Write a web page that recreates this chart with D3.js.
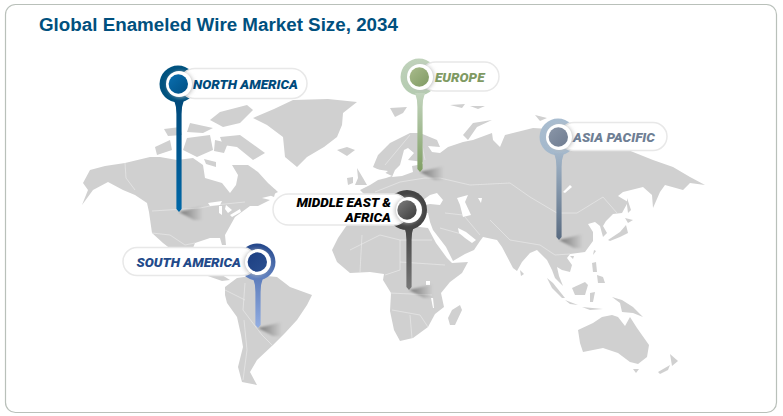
<!DOCTYPE html>
<html>
<head>
<meta charset="utf-8">
<script src="https://cdn.jsdelivr.net/npm/d3@7"></script>
<style>
    html, body { margin: 0; padding: 0; background: #fff; }
    svg { display: block; }
    .title { font-family: "Liberation Sans", Arial, sans-serif; font-weight: bold; font-size: 18.8px; fill: #00507e; }
    .pinLabel { font-family: Roboto, sans-serif; font-weight: 900; font-style: italic; font-size: 13.5px; }
</style>
</head>
<body>
<svg width="783" height="416"></svg>
<script>
var chartTitle = "Global Enameled Wire Market Size, 2034";

// pins, values in map degrees
var regions = ["NORTH AMERICA", "EUROPE", "ASIA PACIFIC", "MIDDLE EAST &\nAFRICA", "SOUTH AMERICA"];
var tipLon = [-94.5, 26, 95.5, 20.5, -55];
var tipLat = [36.5, 56.5, 22.5, -2.5, -21.5];
var headLat = [100.5, 104, 74, 37.5, 11.5];

// land outlines, [lon, lat] in map degrees
var land = [
    // north america
    [[-142.5,51],[-139,57.5],[-131.5,59.5],[-121.5,61],[-109,64],[-104,64],[-95.5,62.5],[-87.5,63.5],[-82.5,60],[-81.5,53.5],[-73,51],[-69,46],[-66,50],[-65,55],[-68,60],[-60,60],[-55,56.5],[-50,51],[-45,46.5],[-49,44.5],[-53,43.5],[-49,42.5],[-55,39.5],[-59,39.5],[-66.5,34],[-71.5,25],[-71,20],[-73,20],[-74,23.5],[-79,23.5],[-86.5,21],[-88.5,16],[-85.5,11.5],[-80,13.5],[-77,14.5],[-79,8.5],[-73,5],[-69,2.5],[-73,2],[-81.5,5],[-89,8.5],[-95,13.5],[-98,17.5],[-102.5,21],[-108,26],[-109.5,36.5],[-110.5,41],[-116.5,45],[-122.5,47.5],[-130,51.5],[-137.5,47.5],[-143,40],[-140,47.5]],
    // greenland, iceland, arctic islands
    [[-57.5,83.5],[-47,88],[-37.5,92.5],[-20,93],[-5.5,91.5],[-12.5,86],[-13,80],[-15.5,74],[-22,69],[-30.5,64],[-35.5,59],[-41.5,64],[-42.5,74],[-50.5,80]],
    [[-15.5,67.5],[-10.5,69],[-6.5,67.5],[-10.5,64.5]],
    [[-74,86.5],[-60.5,90],[-57.5,87.5],[-64,81],[-72.5,79],[-79,82.5]],
    [[-74,74],[-64,75],[-51.5,66],[-57.5,62.5],[-65.5,69],[-72.5,70]],
    [[-90.5,73.5],[-79,75],[-77.5,67.5],[-85.5,64],[-92.5,67.5]],
    [[-106.5,69],[-99,72.5],[-98,67.5],[-105.5,65]],
    [[-89,81],[-77.5,78.5],[-82.5,76],[-90.5,76.5]],
    [[-76.5,72.5],[-70,71],[-72,66],[-77,67]],
    [[-82,63],[-76,61.5],[-76,59],[-81,60.5]],
    [[-102,78],[-94,79],[-93,75],[-100,74.5]],
    [[-52,49.5],[-46,47.5],[-47,44],[-52,46]],
    // south america
    [[-71.5,-5],[-70.5,-9],[-65.5,-16],[-63.5,-25],[-62.5,-31],[-65,-41],[-63,-48.5],[-55.5,-50],[-59,-43.5],[-55.5,-37.5],[-47.5,-30],[-41.5,-24],[-35.5,-17.5],[-30.5,-10],[-28,-5],[-39,-1],[-45.5,4],[-55.5,5],[-65.5,3.5],[-71.5,-1]],
    // africa, madagascar
    [[-9.5,31.5],[-1.5,33.5],[11,34.5],[16,31.5],[22,29.5],[30,28.5],[34,21],[39.5,13.5],[42,11],[50,11.5],[47,6],[41,1.5],[36.5,-4],[38,-11],[33.5,-14.5],[30,-21],[22.5,-26.5],[16,-28],[13,-22.5],[11,-13],[11.5,-4],[7.5,2.5],[8,5.5],[1,6.5],[-9,6],[-15.5,11.5],[-18,17.5],[-15,23.5]],
    [[46,-10],[47,-12.5],[43.5,-20],[41,-20],[40,-16.5],[42,-12.5]],
    // eurasia
    [[2.5,59],[5,65],[11,71],[21,76],[26,76],[34.5,72.5],[36,69],[30,69.5],[32,66.5],[36,66],[40,69],[47.5,71.5],[52.5,72.5],[62,76],[62.5,72.5],[66,69],[68.5,75],[74.5,76.5],[82.5,78.5],[91,78],[106,76],[121,71.5],[132.5,66.5],[142.5,62.5],[152.5,59],[161,54],[168.5,50],[161,51],[157.5,47.5],[148.5,50],[146,46.5],[142.5,38.5],[142,45],[137.5,49],[127.5,46.5],[125,44.5],[130,41.5],[127,36],[122.5,35.5],[119,32],[117.5,29.5],[119.5,26],[117.5,24],[116,29.5],[113.5,31.5],[110,30.5],[112.5,26.5],[112.5,22],[108.5,16.5],[101,15.5],[99.5,13.5],[102,10],[101,6.5],[97,7.5],[94.5,9],[95.5,4.5],[97.5,-0.5],[93.5,3.5],[92,7.5],[89.5,12.5],[84.5,17.5],[81,16],[77,11.5],[74.5,7],[72.5,8.5],[67,19],[64.5,22.5],[57.5,24],[56,22],[53,17.5],[48.5,15.5],[42.5,12],[39,19],[32.5,27.5],[31,31.5],[30,36],[25,36.5],[21,32.5],[17,38.5],[20,31.5],[15,36.5],[11,42.5],[6,43.5],[1,40],[-3,33.5],[-11.5,33.5],[-14,40],[-11.5,44],[-1.5,45],[-4,47.5],[1,50],[5,52.5],[9,53.5],[12,54.5]],
    // uk, ireland and northern islands
    [[-5.5,58.5],[-2.5,53.5],[-0.5,50],[-6.5,50],[-5,53.5]],
    [[-10.5,53.5],[-7.5,54],[-7.5,51],[-10,50]],
    [[47.5,75],[52.5,81],[62,82.5],[54.5,79],[50,72.5]],
    [[11,88.5],[19.5,89],[17.5,86],[13.5,84]],
    [[41,90],[48.5,90.5],[47,88.5]],
    [[51,89.5],[58.5,89.5],[55,88]],
    [[83.5,85],[89.5,83.5],[86,82]],
    // japan, sakhalin
    [[120,22.5],[126,26.5],[129,30],[130,26],[126,24],[121,22]],
    [[128.5,33.5],[132.5,32.5],[130,31]],
    [[129.5,43.5],[131.5,37.5],[130,36],[129.5,40]],
    // south east asia
    [[89.5,3.5],[92.5,1],[98.5,-6.5],[97,-6.5],[92,-1.5]],
    [[102,-1.5],[108.5,1.5],[110,0],[108.5,-5],[103.5,-5]],
    [[98.5,-7.5],[105,-10],[101,-9.5]],
    [[107,-11],[117.5,-12],[111,-12.5]],
    [[111,-4],[113.5,-3.5],[112.5,-8.5],[111,-8.5]],
    [[112,11],[114,11.5],[114.5,6.5],[112.5,6.5]],
    [[114.5,5],[117.5,4],[118.5,1],[115,1]],
    [[113,17.5],[114,17],[112.5,15]],
    [[101,14.5],[103,14.5],[102.5,13]],
    [[76,7.5],[78,5.5],[76.5,4.5]],
    [[122,-6],[127,-7.5],[132.5,-11],[137.5,-16],[132.5,-14],[127,-13.5],[126,-9]],
    // australia, tasmania, new zealand
    [[105,-22.5],[112.5,-19],[117,-16],[122,-15],[125,-16],[128.5,-20.5],[131,-16],[134.5,-21.5],[140.5,-30],[139.5,-36],[135,-39.5],[131,-38.5],[125,-34],[117.5,-31.5],[107.5,-33.5],[106,-29]],
    [[132.5,-42],[135.5,-42],[134,-44]],
    [[151,-34.5],[155,-38],[152,-40.5]],
    [[151,-40],[150,-42.5],[146,-44.5],[145,-43.5]]
];

// inland water painted over the land
var water = [
    [[3.5,58],[10,57],[8,55.5]],
    [[12,54],[13.5,57.5],[16,60],[18,67.5],[20,68.5],[23,66],[20,62.5],[27.5,61.5],[27.5,60.5],[22,59.5],[22.5,56.5],[17,54.5]],
    [[27.5,42.5],[31,45],[34.5,46],[37.5,42.5],[36,40],[31,40.5],[28.5,40]],
    [[44.5,43.5],[50,45],[48.5,41.5],[51.5,35],[47.5,34],[46,40]],
    [[55,43.5],[57,43.5],[56.5,41]],
    [[45,28.5],[49,26.5],[54,22.5],[52,21],[48.5,23.5],[45.5,26]],
    [[101,50],[102,49],[98.5,46],[97.5,46.5]],
    [[-80,41],[-73,42],[-74,40],[-79,39.5]],
    [[-74.5,39.5],[-73,39.5],[-73,35],[-74.5,36]],
    [[-71,40],[-68,37.5],[-70,36],[-71.5,38]],
    [[-69,35],[-64,38],[-63.5,36.5],[-68,34]],
    [[29,2],[31,2],[31,0],[29,0]],
    [[31.5,-6.5],[32.5,-6.5],[33,-11.5],[32.5,-11.5]]
];

var borders = [
    [[-121.5,61],[-121,53.5],[-116.5,47.5]],
    [[-108,37],[-84,38.5],[-76.5,40],[-61.5,41.5]],
    [[-108,26],[-99,25],[-91.5,20],[-86.5,21]],
    [[-61.5,1],[-62.5,-12.5],[-58,-18.5],[-53,-25],[-48,-30]],
    [[-62,-17.5],[-60.5,-32.5],[-62.5,-47.5]],
    [[-71.5,-2.5],[-61.5,-7.5]],
    [[36,53.5],[51,50],[71,51],[81,44],[94.5,36],[104.5,36],[117.5,44],[124.5,36]],
    [[61,32.5],[71,22.5],[86,20],[93.5,15],[101,15.5]],
    [[48.5,34],[56,25]],
    [[38.5,36],[47.5,35]],
    [[36,28.5],[48.5,25]],
    [[3.5,46.5],[16,51.5],[28.5,53.5],[36,53.5]],
    [[26,75],[28.5,62.5]],
    [[8.5,60],[21,75]],
    [[-9,17.5],[6,25],[16,22.5],[16,7.5],[8.5,5]],
    [[16,22.5],[32,22.5]],
    [[16,11.5],[38.5,10]],
    [[11,-4],[32,-5]],
    [[12,-12.5],[26,-15],[30,-21]],
    [[22,-26.5],[21,-15]],
    [[-4,6.5],[-3,25]]
];

// label pill and colours per pin, same order as regions
var pinStyle = [
    {side: 1, gap: 14, pillEnd: 307, pillH: 30, ring: "#00527f", ringLow: "#00527f", dotA: "#0a6fb0", dotB: "#004f83", shaftA: "#00497a", shaftB: "#0068a8", text: "#004b7c"},
    {side: 1, gap: 15, pillEnd: 499, pillH: 29, ring: "#c0d2bb", ringLow: "#b4cbb0", dotA: "#a9bb8c", dotB: "#7f9a63", shaftA: "#c3d5bf", shaftB: "#7f9e62", text: "#7f9a63"},
    {side: 1, gap: 14, pillEnd: 667, pillH: 28, ring: "#a9bdd0", ringLow: "#a3b8cc", dotA: "#8a96a8", dotB: "#6f7c90", shaftA: "#a3b6c9", shaftB: "#586a80", text: "#6f7f95"},
    {side: -1, gap: 18, pillEnd: 273, pillH: 31, ring: "#444444", ringLow: "#444444", dotA: "#7d7d7d", dotB: "#3a3a3a", shaftA: "#444444", shaftB: "#787878", text: "#000000"},
    {side: -1, gap: 17, pillEnd: 123, pillH: 28, ring: "#23468a", ringLow: "#6485c4", dotA: "#1d3f82", dotB: "#2a4f90", shaftA: "#5d7dbc", shaftB: "#93aee2", text: "#234a8a"}
];

var x = d3.scaleLinear().domain([-180, 180]).range([8, 728]);
var y = d3.scaleLinear().domain([-90, 90]).range([465, 105]);

var svg = d3.select("svg");
var defs = svg.append("defs");

svg.append("rect")
    .attr("x", 5.5)
    .attr("y", 4.5)
    .attr("width", 771)
    .attr("height", 408)
    .attr("rx", 10)
    .attr("fill", "#fff")
    .attr("stroke", "#b9c0ba")
    .attr("stroke-width", 1.2);

svg.append("text")
    .attr("class", "title")
    .attr("x", 39)
    .attr("y", 31)
    .text(chartTitle);

var outline = d3.line()
    .x(function(d) { return x(d[0]); })
    .y(function(d) { return y(d[1]); });

svg.append("g").selectAll("path")
    .data(land)
    .enter().append("path")
    .attr("d", function(d) { return outline(d) + "Z"; })
    .attr("fill", "#d0d0d0");

svg.append("g").selectAll("path")
    .data(borders)
    .enter().append("path")
    .attr("d", outline)
    .attr("fill", "none")
    .attr("stroke", "#ececec")
    .attr("stroke-width", 0.6);

svg.append("g").selectAll("path")
    .data(water)
    .enter().append("path")
    .attr("d", function(d) { return outline(d) + "Z"; })
    .attr("fill", "#fff");

// gradients and blur for the pins
var blur = defs.append("filter").attr("id", "soft")
    .attr("x", "-50%").attr("y", "-50%").attr("width", "200%").attr("height", "200%");
blur.append("feGaussianBlur").attr("stdDeviation", 2);

var groundBlur = defs.append("filter").attr("id", "groundSoft")
    .attr("x", "-20%").attr("y", "-20%").attr("width", "140%").attr("height", "140%");
groundBlur.append("feGaussianBlur").attr("stdDeviation", 0.9);

var shade = defs.append("linearGradient").attr("id", "groundShade");
shade.append("stop").attr("offset", "0%").attr("stop-color", "#000").attr("stop-opacity", 0.42);
shade.append("stop").attr("offset", "100%").attr("stop-color", "#000").attr("stop-opacity", 0);

function addGradient(id, a, b, vertical) {
    var g = defs.append("linearGradient").attr("id", id);
    if (vertical) g.attr("x1", 0).attr("y1", 0).attr("x2", 0).attr("y2", 1);
    else g.attr("x1", 0).attr("y1", 0).attr("x2", 1).attr("y2", 1);
    g.append("stop").attr("offset", "0%").attr("stop-color", a);
    g.append("stop").attr("offset", "100%").attr("stop-color", b);
}

var pins = svg.append("g").selectAll("g")
    .data(regions)
    .enter().append("g");

pins.each(function(name, i) {
    var g = d3.select(this);
    var s = pinStyle[i];
    var tx = x(tipLon[i]);
    var ty = y(tipLat[i]);
    var hy = y(headLat[i]);

    addGradient("shaft" + i, s.shaftA, s.shaftB, true);
    addGradient("ring" + i, s.ring, s.ringLow, true);
    addGradient("dot" + i, s.dotA, s.dotB, false);

    // shadow on the ground
    g.append("path")
        .attr("d", "M" + tx + "," + ty + "l24,-6v14h-9z")
        .attr("fill", "url(#groundShade)")
        .attr("filter", "url(#groundSoft)");

    // ring
    g.append("circle")
        .attr("cx", tx - (i == 3 ? 2 : 1))
        .attr("cy", hy)
        .attr("r", i == 3 ? 20 : 18.5)
        .attr("fill", "url(#ring" + i + ")");

    // shaft, flares under the ring and ends in a point
    g.append("path")
        .attr("d", "M" + (tx - 5) + "," + (hy + 16)
            + "Q" + (tx - 2.6) + "," + (hy + 22) + " " + (tx - 2.6) + "," + (hy + 30)
            + "V" + (ty - 3) + "L" + tx + "," + ty + "L" + (tx + 2.6) + "," + (ty - 3)
            + "V" + (hy + 30)
            + "Q" + (tx + 2.6) + "," + (hy + 22) + " " + (tx + 5) + "," + (hy + 16) + "Z")
        .attr("fill", "url(#shaft" + i + ")");

    // label pill runs from the head to its far end
    var pillX = s.side > 0 ? tx + 1 : s.pillEnd;
    var pillW = s.side > 0 ? s.pillEnd - tx - 1 : tx - (i == 3 ? 0 : 2) - s.pillEnd;
    g.append("rect")
        .attr("x", pillX)
        .attr("y", hy - s.pillH / 2 - 0.5)
        .attr("width", pillW)
        .attr("height", s.pillH)
        .attr("rx", s.pillH / 2)
        .attr("fill", "#fff")
        .attr("stroke", "#e8e8e8")
        .attr("stroke-width", 1.5);

    // disc with soft shade, then the dot
    g.append("circle")
        .attr("cx", tx + s.side * 1.5)
        .attr("cy", hy + 0.5)
        .attr("r", 12.5)
        .attr("fill", "#bdbdbd")
        .attr("filter", "url(#soft)");
    g.append("circle")
        .attr("cx", tx)
        .attr("cy", hy)
        .attr("r", 13)
        .attr("fill", "#fff");
    g.append("circle")
        .attr("cx", tx - (i == 3 ? 2 : 0.7))
        .attr("cy", hy)
        .attr("r", 9.7)
        .attr("fill", "url(#dot" + i + ")");

    // label text
    var lines = name.split("\n");
    var label = g.append("text")
        .attr("class", "pinLabel")
        .attr("fill", s.text)
        .attr("text-anchor", s.side > 0 ? "start" : "end");
    lines.forEach(function(line, j) {
        label.append("tspan")
            .attr("x", tx + s.side * s.gap)
            .attr("y", hy + 4.5 + (j - (lines.length - 1) / 2) * 15)
            .text(line);
    });
});
</script>
</body>
</html>
